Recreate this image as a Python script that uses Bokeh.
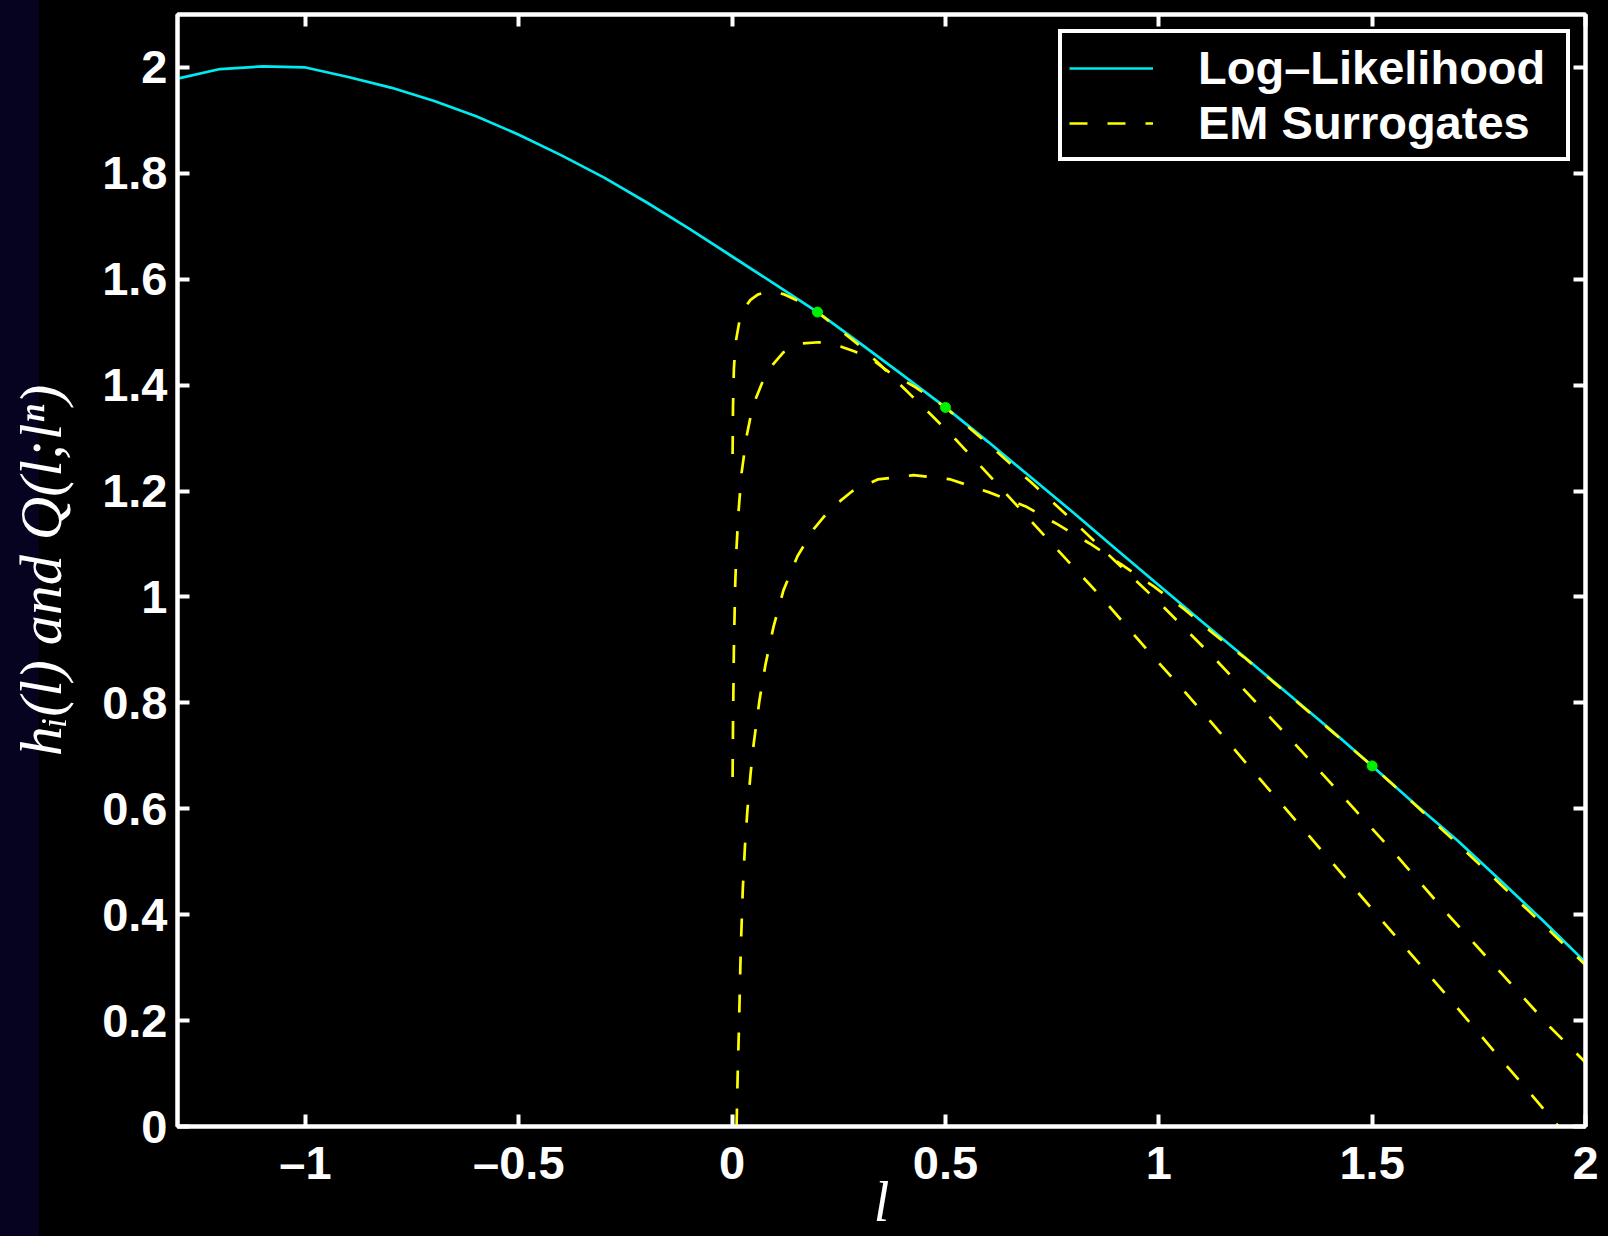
import numpy as np
from bokeh.plotting import figure
from bokeh.models import Range1d, FixedTicker, LinearAxis, Legend, LegendItem
from bokeh.core.properties import value
from bokeh.embed import file_html
from bokeh.resources import INLINE

# ---- data ----
h_l = [-1.3, -1.2, -1.1, -1.0, -0.9, -0.8, -0.7, -0.6, -0.5, -0.4, -0.3, -0.2, -0.1, 0.0,
       0.1, 0.2, 0.3, 0.4, 0.5, 0.6, 0.7, 0.8, 0.9, 1.0, 1.1, 1.2, 1.3, 1.4, 1.5, 1.6,
       1.7, 1.8, 1.9, 2.0]
h_v = [1.979, 1.997, 2.002, 2.000, 1.982, 1.962, 1.937, 1.908, 1.873, 1.834, 1.792, 1.745,
       1.695, 1.643, 1.591, 1.538, 1.479, 1.419, 1.358, 1.293, 1.226, 1.159, 1.090, 1.022,
       0.954, 0.887, 0.819, 0.751, 0.681, 0.609, 0.540, 0.465, 0.389, 0.310]

a_l = [0.001, 0.002, 0.004, 0.008, 0.017, 0.03, 0.043, 0.06, 0.08, 0.1, 0.12, 0.16, 0.2,
       0.25, 0.3, 0.35, 0.4, 0.465, 0.528, 0.617, 0.735, 0.857, 0.974, 1.063, 1.121, 1.208,
       1.325, 1.443, 1.555, 1.672, 1.785, 1.902, 1.937]
a_v = [1.27, 1.36, 1.43, 1.48, 1.521, 1.547, 1.561, 1.571, 1.576, 1.576, 1.572, 1.557, 1.538,
       1.506, 1.474, 1.436, 1.396, 1.345, 1.294, 1.217, 1.113, 1.007, 0.899, 0.819, 0.765,
       0.683, 0.574, 0.464, 0.359, 0.250, 0.143, 0.033, 0.0]

b_l = [0.001, 0.002, 0.004, 0.007, 0.01, 0.015, 0.022, 0.034, 0.043, 0.055, 0.071, 0.09,
       0.12, 0.165, 0.203, 0.254, 0.289, 0.332, 0.367, 0.43, 0.5, 0.6, 0.7, 0.8, 0.9, 1.0,
       1.133, 1.222, 1.316, 1.443, 1.56, 1.679, 1.801, 1.918, 2.0]
b_v = [0.66, 0.76, 0.9, 1.02, 1.09, 1.162, 1.234, 1.304, 1.34, 1.374, 1.406, 1.434, 1.462,
       1.479, 1.481, 1.473, 1.463, 1.446, 1.425, 1.396, 1.358, 1.289, 1.217, 1.143, 1.066,
       0.99, 0.882, 0.806, 0.725, 0.613, 0.509, 0.399, 0.291, 0.187, 0.121]

c_l = [0.0103, 0.013, 0.016, 0.02, 0.025, 0.03, 0.036, 0.043, 0.05, 0.064, 0.078, 0.097,
       0.12, 0.153, 0.191, 0.231, 0.282, 0.341, 0.425, 0.512, 0.601, 0.688, 0.763, 0.838,
       0.913, 0.988, 1.058, 1.129, 1.2, 1.3, 1.4, 1.5, 1.6, 1.7, 1.8, 1.9, 2.0]
c_v = [0.0, 0.1, 0.19, 0.33, 0.45, 0.53, 0.6, 0.665, 0.72, 0.805, 0.872, 0.944, 1.012,
       1.077, 1.128, 1.167, 1.2, 1.222, 1.23, 1.222, 1.198, 1.171, 1.137, 1.101, 1.061,
       1.02, 0.978, 0.93, 0.886, 0.818, 0.75, 0.681, 0.608, 0.534, 0.458, 0.382, 0.305]

touch_l = [0.2, 0.5, 1.5]
touch_v = [1.538, 1.358, 0.681]

x_ticks = [-1, -0.5, 0, 0.5, 1, 1.5, 2]
x_tick_labels = ["\u20131", "\u20130.5", "0", "0.5", "1", "1.5", "2"]
y_ticks = [0, 0.2, 0.4, 0.6, 0.8, 1, 1.2, 1.4, 1.6, 1.8, 2]
y_tick_labels = ["0", "0.2", "0.4", "0.6", "0.8", "1", "1.2", "1.4", "1.6", "1.8", "2"]

series_names = ["Log\u2013Likelihood", "EM Surrogates"]
x_title = "l"
y_title = "h\u1d62(l) and Q(l;l\u207f)"

# ---- styling ----
WHITE = "#ffffff"
CYAN = "#00eaf2"
YELLOW = "#ffff00"
GREEN = "#00ee00"
NAVY = "#05031f"
TICK_FONT = "Liberation Sans"
MATH_FONT = "Liberation Serif"

p = figure(width=1608, height=1236,
           x_range=Range1d(-1.3, 2.0), y_range=Range1d(0, 2.1),
           output_backend="svg", toolbar_location=None,
           min_border_left=177, min_border_right=23,
           min_border_top=14, min_border_bottom=110)
p.background_fill_color = "black"
p.border_fill_color = None
p.styles = {"background": "linear-gradient(90deg, %s 0px, %s 39px, #000000 39px, #000000 100%%)" % (NAVY, NAVY)}
p.outline_line_color = WHITE
p.outline_line_width = 4
p.xgrid.visible = False
p.ygrid.visible = False


def style_axis(ax, ticks, labels=None):
    ax.ticker = FixedTicker(ticks=ticks)
    ax.axis_line_color = WHITE
    ax.axis_line_width = 4
    ax.major_tick_line_color = WHITE
    ax.major_tick_line_width = 4
    ax.major_tick_in = 12
    ax.major_tick_out = 0
    ax.minor_tick_line_color = None
    if labels is not None:
        ax.major_label_overrides = {t: s for t, s in zip(ticks, labels)}
        ax.major_label_text_font = TICK_FONT
        ax.major_label_text_font_style = "bold"
        ax.major_label_text_font_size = "47px"
        ax.major_label_text_color = WHITE
    else:
        ax.major_label_text_font_size = "1px"
        ax.major_label_text_color = None
        ax.major_label_text_alpha = 0
        ax.major_label_standoff = 0


x_bottom = p.below[0]
y_left = p.left[0]
style_axis(x_bottom, x_ticks, x_tick_labels)
style_axis(y_left, y_ticks, y_tick_labels)
x_bottom.major_label_standoff = 9
y_left.major_label_standoff = 10

top_ax = LinearAxis()
right_ax = LinearAxis()
style_axis(top_ax, x_ticks)
style_axis(right_ax, y_ticks)
p.add_layout(top_ax, "above")
p.add_layout(right_ax, "right")

# axis titles
x_bottom.axis_label = x_title
y_left.axis_label = y_title
for ax in (x_bottom, y_left):
    ax.axis_label_text_font = MATH_FONT
    ax.axis_label_text_font_style = "italic"
    ax.axis_label_text_color = WHITE
x_bottom.axis_label_text_font_size = "56px"
y_left.axis_label_text_font_size = "60px"
x_bottom.axis_label_standoff = -21
y_left.axis_label_standoff = 25

# ---- curves ----
r_h = p.line(h_l, h_v, line_color=CYAN, line_width=2.7)
dash = "18 20"
r_a = p.line(a_l, a_v, line_color=YELLOW, line_width=2.7, line_dash=dash)
r_b = p.line(b_l, b_v, line_color=YELLOW, line_width=2.7, line_dash=dash)
r_c = p.line(c_l, c_v, line_color=YELLOW, line_width=2.7, line_dash=dash)
p.scatter(touch_l, touch_v, size=10, fill_color=GREEN, line_color=GREEN)

# ---- legend ----
legend = Legend(items=[LegendItem(label=value(series_names[0]), renderers=[r_h]),
                       LegendItem(label=value(series_names[1]), renderers=[r_a])],
                location="top_right")
legend.margin = 15
legend.padding = 7
legend.spacing = 0
legend.glyph_width = 84
legend.glyph_height = 48
legend.label_height = 48
legend.label_width = 361
legend.label_standoff = 45
legend.label_text_font = TICK_FONT
legend.label_text_font_style = "bold"
legend.label_text_font_size = "47px"
legend.label_text_color = WHITE
legend.border_line_color = WHITE
legend.border_line_alpha = 1.0
legend.border_line_width = 4
legend.background_fill_color = "black"
legend.background_fill_alpha = 1.0
p.add_layout(legend)

open("out.html", "w").write(file_html(p, INLINE))
